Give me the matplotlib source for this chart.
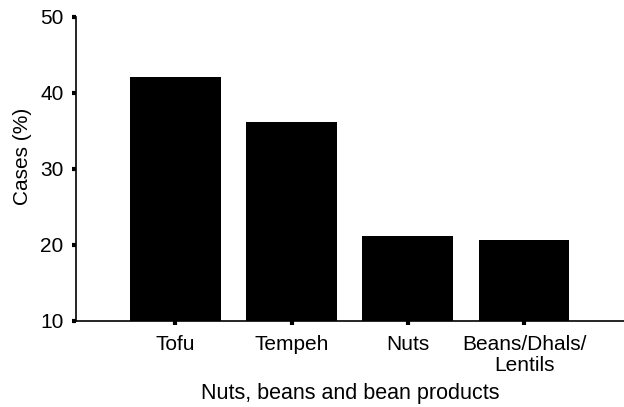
import matplotlib
matplotlib.use("Agg")
import matplotlib.pyplot as plt

categories = ["Tofu", "Tempeh", "Nuts", "Beans/Dhals/\nLentils"]
cases = [42.1, 36.2, 21.2, 20.7]
yticks = [10, 20, 30, 40, 50]

plt.rcParams['font.family'] = ['Liberation Sans', 'DejaVu Sans']

fig = plt.figure(figsize=(6.24, 4.07), dpi=100)
ax = fig.add_axes([76 / 624, 1 - 321 / 407, 1 - 76 / 624, (321 - 17) / 407])

x = range(len(categories))
ax.bar(x, [c - 10 for c in cases], bottom=10, width=0.78, color='black')

ax.set_ylim(10, 50)
ax.set_xlim(-0.855, 3.86)
ax.set_yticks(yticks)
ax.set_xticks(list(x))
ax.set_xticklabels(categories, fontsize=15, linespacing=1.15)
ax.tick_params(axis='y', labelsize=15, direction='out', length=3, width=3, pad=6)
ax.tick_params(axis='x', direction='out', length=3, width=3, pad=7)

for s in ['top', 'right']:
    ax.spines[s].set_visible(False)
for s in ['left', 'bottom']:
    ax.spines[s].set_linewidth(1.2)

ax.set_ylabel("Cases (%)", fontsize=15)
ax.yaxis.set_label_coords(-44 / 548, 0.54)
ax.set_xlabel("Nuts, beans and bean products", fontsize=15.5, labelpad=6)

fig.savefig("out.png", dpi=100)
